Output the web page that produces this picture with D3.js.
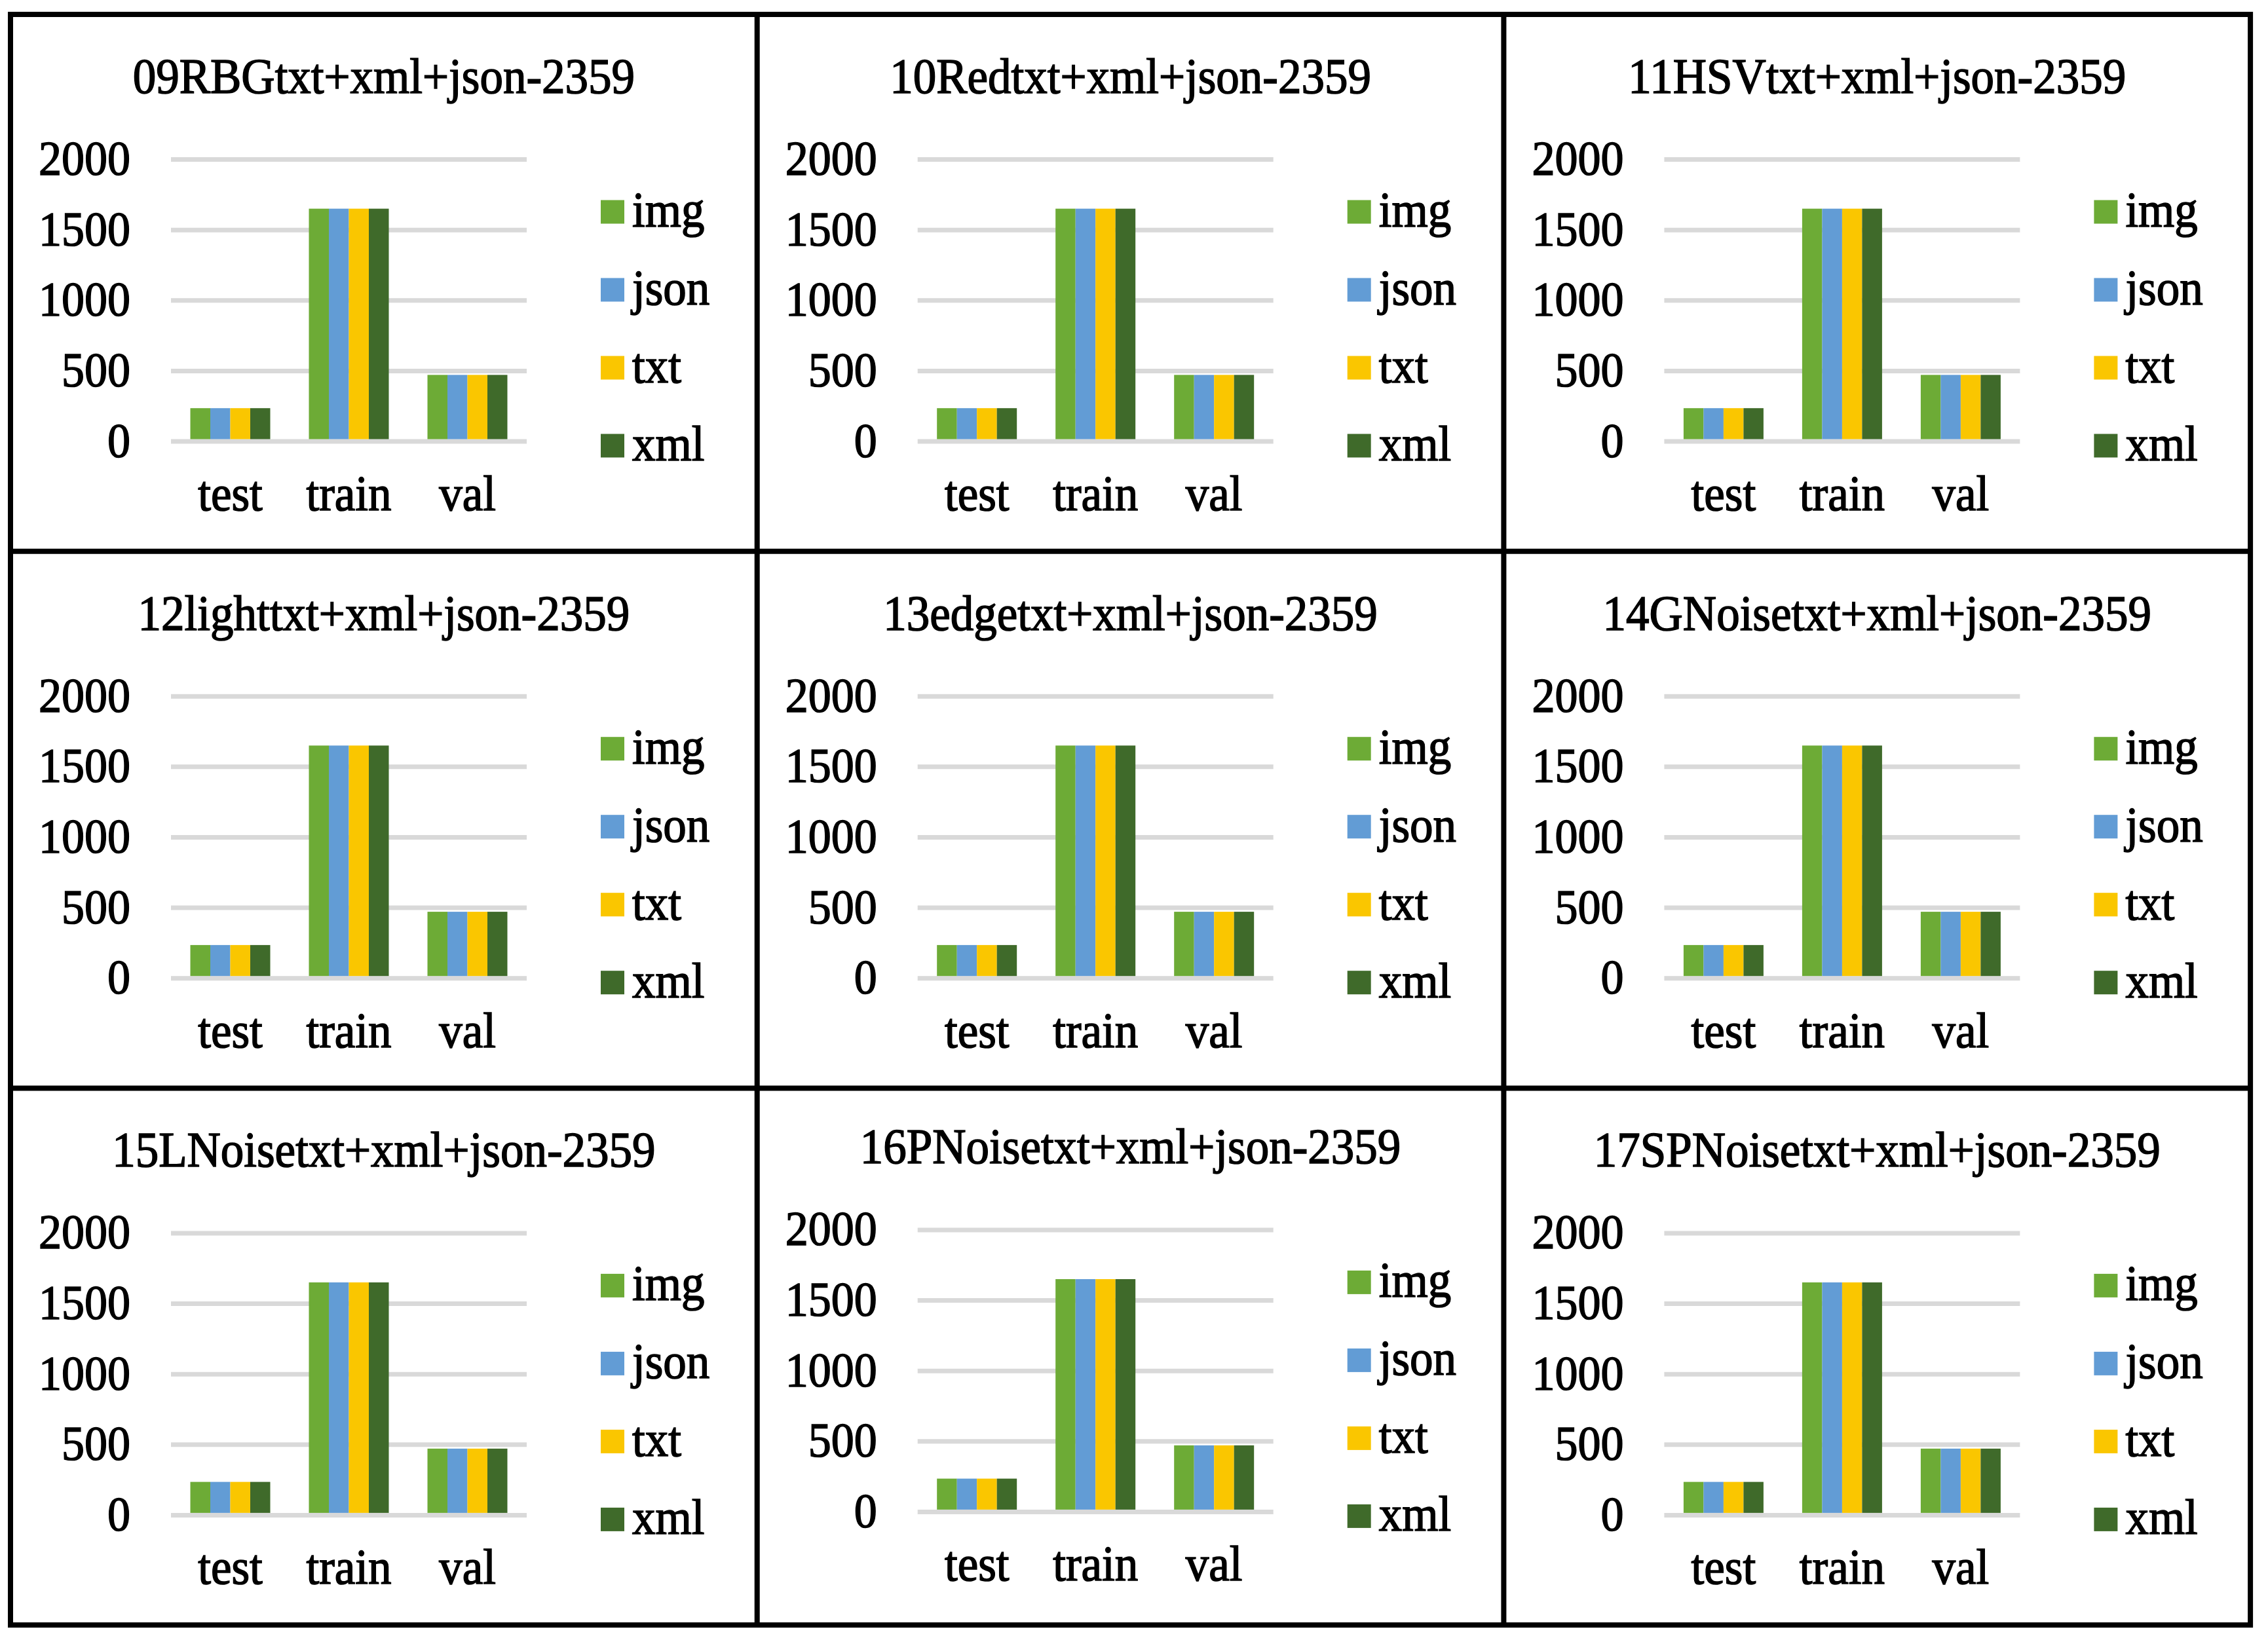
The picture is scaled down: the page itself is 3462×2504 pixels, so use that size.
<!doctype html>
<html>
<head>
	<style>
body { margin: 0; background: #fff; }
text { font-family: "Liberation Serif", "Times New Roman", serif; fill: #000; stroke: #000; stroke-width: 1.5px; }
.grid { stroke: #d9d9d9; stroke-width: 7px; }
.frame { fill: none; stroke: #000; stroke-width: 8px; }
	</style>
</head>
<body>

	<div id="root"></div>

	<script src="https://d3js.org/d3.v7.min.js"></script>
	<script>

	var panelTitles = [
		'09RBGtxt+xml+json-2359', '10Redtxt+xml+json-2359', '11HSVtxt+xml+json-2359',
		'12lighttxt+xml+json-2359', '13edgetxt+xml+json-2359', '14GNoisetxt+xml+json-2359',
		'15LNoisetxt+xml+json-2359', '16PNoisetxt+xml+json-2359', '17SPNoisetxt+xml+json-2359'
	];
	var categories = ['test', 'train', 'val'];
	var seriesNames = ['img', 'json', 'txt', 'xml'];
	var imgCounts = [236, 1651, 472];
	var jsonCounts = [236, 1651, 472];
	var txtCounts = [236, 1651, 472];
	var xmlCounts = [236, 1651, 472];
	var yTicks = [0, 500, 1000, 1500, 2000];

	var seriesValues = [imgCounts, jsonCounts, txtCounts, xmlCounts];
	var colors = ['#6dab36', '#629cd5', '#fac600', '#3f6a2a'];

	// frame of the 3x3 table
	var tableLeft = 16, tableTop = 22, cellW = 1139.7, cellH = 819.7;
	// the middle bottom chart sits a few px higher in the source
	var panelShift = [0, 0, 0, 0, 0, 0, 0, -5, 0];

	var svg = d3.select('#root').append('svg')
		.attr('width', 3462)
		.attr('height', 2504);

	var y = d3.scaleLinear().domain([0, 2000]).range([652, 221.5]);
	var x0 = d3.scaleBand().domain(categories).range([245, 788])
		.paddingInner(0.326).paddingOuter(0.163);
	var x1 = d3.scaleBand().domain(seriesNames).range([0, x0.bandwidth()]);
	var color = d3.scaleOrdinal().domain(seriesNames).range(colors);

	var rows = [];
	categories.forEach(function(c, i){
		seriesNames.forEach(function(s, j){
			rows.push({cat: c, series: s, value: seriesValues[j][i]});
		});
	});

	function stretched(sel){
		return sel.attr('transform', function(){
			var t = d3.select(this);
			return 'translate(' + t.attr('data-x') + ',' + t.attr('data-y') + ') scale(1,1.07)';
		});
	}

	panelTitles.forEach(function(title, k){
		var col = k % 3, row = Math.floor(k / 3);
		var g = svg.append('g')
			.attr('transform', 'translate(' + (tableLeft + col * cellW) + ',' + (tableTop + row * cellH + panelShift[k]) + ')');

		g.append('text')
			.attr('data-x', cellW / 2).attr('data-y', 120)
			.attr('text-anchor', 'middle')
			.attr('font-size', 71)
			.text(title)
			.call(stretched);

		g.selectAll('.grid')
			.data(yTicks)
			.enter().append('line')
				.attr('class', 'grid')
				.attr('x1', x0.range()[0])
				.attr('x2', x0.range()[1])
				.attr('y1', function(d){ return y(d); })
				.attr('y2', function(d){ return y(d); });

		g.selectAll('.ytick')
			.data(yTicks)
			.enter().append('text')
				.attr('class', 'ytick')
				.attr('data-x', 183)
				.attr('data-y', function(d){ return y(d) + 23.5; })
				.attr('text-anchor', 'end')
				.attr('font-size', 70)
				.text(function(d){ return d; })
				.call(stretched);

		g.selectAll('.bar')
			.data(rows)
			.enter().append('rect')
				.attr('class', 'bar')
				.attr('x', function(d){ return x0(d.cat) + x1(d.series); })
				.attr('width', x1.bandwidth())
				.attr('y', function(d){ return y(d.value); })
				.attr('height', function(d){ return y(0) - 3.5 - y(d.value); })
				.attr('fill', function(d){ return color(d.series); });

		g.selectAll('.xlab')
			.data(categories)
			.enter().append('text')
				.attr('class', 'xlab')
				.attr('data-x', function(d){ return x0(d) + x0.bandwidth() / 2; })
				.attr('data-y', 757)
				.attr('text-anchor', 'middle')
				.attr('font-size', 71)
				.text(function(d){ return d; })
				.call(stretched);

		var legend = g.selectAll('.legend')
			.data(seriesNames)
			.enter().append('g')
				.attr('class', 'legend')
				.attr('transform', function(d, i){ return 'translate(901,' + (301.5 + i * 119) + ')'; });

		legend.append('rect')
			.attr('x', 0).attr('y', -18)
			.attr('width', 36).attr('height', 36)
			.attr('fill', function(d){ return color(d); });

		legend.append('text')
			.attr('data-x', 48).attr('data-y', 22.5)
			.attr('font-size', 71)
			.text(function(d){ return d; })
			.call(stretched);
	});

	// table lines
	var xs = d3.range(4).map(function(i){ return tableLeft + i * cellW; });
	var ys = d3.range(4).map(function(i){ return tableTop + i * cellH; });

	svg.append('rect')
		.attr('class', 'frame')
		.attr('x', xs[0]).attr('y', ys[0])
		.attr('width', xs[3] - xs[0]).attr('height', ys[3] - ys[0]);

	svg.selectAll('.vdiv')
		.data(xs.slice(1, 3))
		.enter().append('line')
			.attr('class', 'frame')
			.attr('x1', function(d){ return d; }).attr('x2', function(d){ return d; })
			.attr('y1', ys[0]).attr('y2', ys[3]);

	svg.selectAll('.hdiv')
		.data(ys.slice(1, 3))
		.enter().append('line')
			.attr('class', 'frame')
			.attr('y1', function(d){ return d; }).attr('y2', function(d){ return d; })
			.attr('x1', xs[0]).attr('x2', xs[3]);

	</script>
</body>
</html>
